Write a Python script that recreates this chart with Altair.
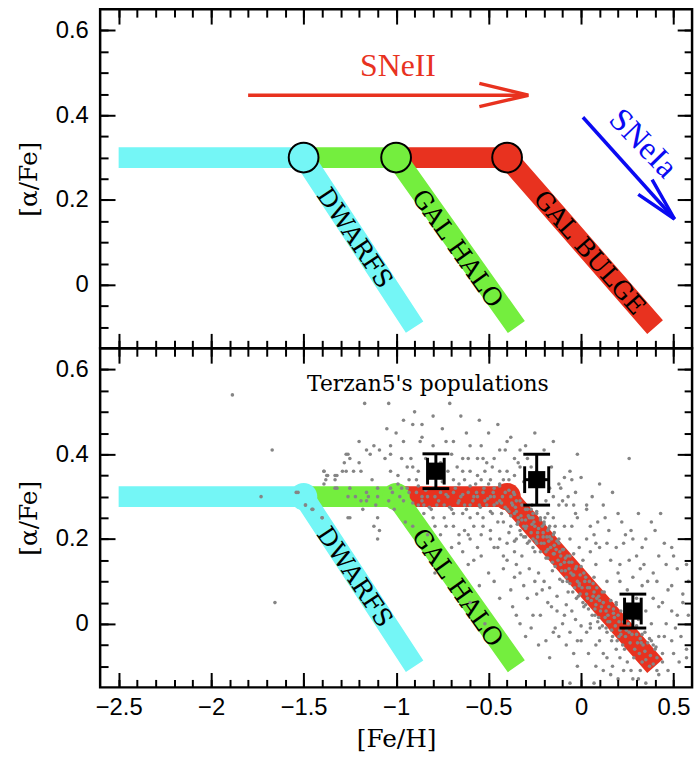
import altair as alt
import pandas as pd

# ---------------- axis ranges and ticks ----------------
x_domain = [-2.6, 0.6]
y_domain = [-0.15, 0.65]
x_major = [-2.5, -2.0, -1.5, -1.0, -0.5, 0.0, 0.5]
x_minor = [-2.5, -2.4, -2.3, -2.2, -2.1, -2.0, -1.9, -1.8, -1.7, -1.6, -1.5,
           -1.4, -1.3, -1.2, -1.1, -1.0, -0.9, -0.8, -0.7, -0.6, -0.5, -0.4,
           -0.3, -0.2, -0.1, 0.0, 0.1, 0.2, 0.3, 0.4, 0.5]
y_major = [0.0, 0.2, 0.4, 0.6]
y_minor = [-0.1, -0.05, 0.0, 0.05, 0.1, 0.15, 0.2, 0.25, 0.3, 0.35, 0.4,
           0.45, 0.5, 0.55, 0.6]

# ---------------- chemical evolution tracks ----------------
dwarfs_feh = [-2.5, -1.5, -0.9]
dwarfs_afe = [0.3, 0.3, -0.1]
halo_feh = [-1.5, -1.0, -0.35]
halo_afe = [0.3, 0.3, -0.1]
bulge_feh = [-1.0, -0.4, 0.4]
bulge_afe = [0.3, 0.3, -0.1]
knee_feh = [-1.5, -1.0, -0.4]
knee_afe = [0.3, 0.3, 0.3]
track_names = ["DWARFS", "GAL HALO", "GAL BULGE"]

# label anchor points on the descending branches
label_feh = [-1.225, -0.67, 0.045]
label_afe = [0.11, 0.085, 0.075]

# SNe arrows
sn2_shaft_feh = [-1.8, -0.29]
sn2_shaft_afe = [0.447, 0.447]
sn2_head_feh = [-0.55, -0.285, -0.55]
sn2_head_afe = [0.475, 0.447, 0.42]
sn1a_shaft_feh = [0.01, 0.505]
sn1a_shaft_afe = [0.395, 0.155]
sn1a_head_feh = [0.309, 0.505, 0.384]
sn1a_head_afe = [0.213, 0.155, 0.248]

# Terzan 5 populations (mean values and errors)
t5_feh = [-0.785, -0.24, 0.28]
t5_afe = [0.36, 0.34, 0.03]
t5_feh_err = [0.045, 0.065, 0.045]
t5_afe_err = [0.041, 0.06, 0.04]

# Terzan 5 individual stars
star_feh = [
    -1.885, -1.67, -1.73, -1.655, -1.54, -1.49, -1.455, -1.40, -1.39, -1.375, -1.33, -1.27, -1.39, -1.33, -1.26,
    -1.17, -1.04, -0.71, -0.65, -0.96, -0.91, -0.86, -1.05, -0.86, -1.20, -1.12, -1.09, -1.03, -0.96, -0.87,
    -0.80, -0.73, -0.69, -0.60, -0.54, -1.26, -1.16, -1.14, -1.25, -1.28, -1.20, -1.06, -1.03, -0.97, -0.92,
    -0.64, -0.61, -0.56, -0.53, -1.39, -1.37, -1.32, -1.29, -1.27, -1.23, -1.19, -1.33, -1.38, -1.13, -1.03,
    -0.99, -0.94, -0.91, -0.89, -0.93, -0.67, -0.64, -0.60, -0.56, -0.69, -0.63, -0.57, -0.54, -0.66, -1.32,
    -1.25, -1.16, -1.10, -1.03, -0.99, -0.97, -1.02, -0.94, -1.53, -1.26, -1.22, -1.15, -1.19, -1.16, -1.10,
    -1.04, -0.98, -0.96, -0.89, -0.86, -0.83, -0.79, -0.76, -0.72, -0.69, -0.65, -0.61, -0.58, -0.56, -0.53,
    -1.49, -1.45, -1.40, -1.25, -1.18, -1.11, -1.10, -1.01, -0.88, -0.85, -0.81, -0.78, -0.74, -0.70, -0.66,
    -0.63, -0.60, -0.55, -0.52, -0.85, -0.80, -0.74, -0.69, -0.64, -0.60, -0.56, -0.53, -0.95, -0.91, -0.79,
    -0.73, -0.69, -0.63, -0.58, -0.53, -0.83, -0.76, -0.66, -0.61, -0.54, -1.12, -1.09,
    -0.40, -0.44, -0.41, -0.33, -0.36, -0.34, -0.33, -0.51, -0.48, -0.44, -0.40, -0.36, -0.29, -0.27, -0.02,
    0.26, -0.06, -0.12, -0.05, -0.11, -0.15, -0.10, -0.07, -0.08, -0.04, 0.03, 0.03, -0.12, -0.19, -0.03,
    -0.02, 0.13, 0.31, 0.38, 0.43, -0.09, -0.05, -0.15, -0.14, -0.18, 0.05, 0.07, 0.24, -0.49, -0.47,
    -0.44, -0.42, -0.49, -0.51, -0.47, -0.43, -0.40, -0.36, -0.48, -0.45, -0.42, -0.38, -0.49, -0.34, -0.31,
    -0.28, -0.26, -0.22, -0.25, -0.21, -0.18, -0.15, -0.47, -0.44, -0.41, -0.38, -0.35, -0.32, -0.29, -0.27,
    -0.24, -0.20, -0.17, -0.27,
    -0.70, -0.66, -0.64, -0.60, -0.56, -0.61, -0.58, -0.54, -0.79, -1.10,
    -0.49, -0.44, -0.40, -0.35, -0.29, -0.47, -0.42, -0.36, -0.32, -0.26, -0.20,
    -0.06, -0.01, 0.03, 0.08, 0.14, 0.19, 0.23, 0.28, 0.33, 0.42, 0.49, -0.06, 0.01, 0.08, 0.16,
    0.21, 0.26, 0.32, 0.39, 0.46, 0.52, 0.57, 0.07, 0.14, 0.21, 0.28, 0.33, 0.41, 0.49, 0.55,
    0.58, 0.39, 0.42, 0.49, 0.55, 0.58, 0.46, 0.51, 0.42, 0.49, 0.57, 0.39, 0.44, 0.32, 0.41,
    0.47, 0.53, 0.57,
    -0.42, -0.36, -0.47, -0.31, -0.37, -0.24, -0.26, -0.18, -0.13, -0.10, -0.06, -0.15, -0.19, -0.23, -0.17,
    -0.12, -0.02, 0.03, 0.08, 0.12, 0.14, 0.17, 0.21, 0.23, 0.28, 0.35, 0.16, 0.08, -0.33, -0.27,
    -0.06, 0.07, -0.02,
    -0.24, -0.18, -0.145, -0.11, -0.085, -0.04, -0.01, 0.035, 0.065, 0.10, 0.135, 0.175, 0.205, 0.245, 0.275,
    0.325, 0.345, -0.10, -0.065, -0.025, 0.015, 0.045, 0.085, 0.115, 0.16, 0.19, 0.235, 0.26, 0.30, 0.33,
    0.37, 0.405, -0.155, -0.115, -0.075, -0.045, -0.005, 0.025, 0.075, 0.095, 0.145, 0.165, 0.215,
    -0.43, -0.39, -0.355, -0.325, -0.30, -0.265, -0.235, -0.205, -0.175, -0.145, -0.12, -0.33, -0.30, -0.26, -0.22,
    -0.19, -0.155, -0.39, -0.36, -0.35, -0.28, -0.23, -0.20, -0.17, -0.13, -0.08, -0.05, -0.03, 0.0, 0.05,
    # metal-poor plateau lying on the bulge track
    -0.93, -0.91, -0.88, -0.86, -0.84, -0.82, -0.80, -0.77, -0.75, -0.73, -0.71, -0.68, -0.665, -0.64, -0.62,
    -0.60, -0.585, -0.565, -0.545, -0.525, -0.505, -0.49, -0.475, -0.455, -0.44, -0.425, -0.41, -0.39, -0.375, -0.36,
    # the dense descending sequence
    -0.38, -0.365, -0.35, -0.345, -0.33, -0.32, -0.31, -0.30, -0.295, -0.285, -0.27, -0.265, -0.255, -0.245, -0.24,
    -0.23, -0.22, -0.215, -0.205, -0.195, -0.19, -0.185, -0.175, -0.165, -0.16, -0.15, -0.145, -0.135, -0.125, -0.12,
    -0.11, -0.105, -0.095, -0.09, -0.08, -0.075, -0.065, -0.06, -0.05, -0.045, -0.035, -0.03, -0.02, -0.015, -0.005,
    0.005, 0.01, 0.02, 0.03, 0.04, 0.045, 0.055, 0.06, 0.07, 0.08, 0.09, 0.095, 0.105, 0.115, 0.12,
    0.13, 0.14, 0.15, 0.155, 0.17, 0.175, 0.185, 0.195, 0.2, 0.21, 0.225, 0.23, 0.24, 0.255, 0.265,
    0.28, 0.29, 0.3, 0.315, 0.32, 0.335, 0.35, 0.36, 0.375, 0.39, 0.4,
    -0.37, -0.34, -0.325, -0.3, -0.28, -0.26, -0.25, -0.235, -0.2, -0.18, -0.17, -0.14, -0.13, -0.115, -0.1,
    -0.085, -0.07, -0.055, -0.04, -0.025, -0.01, 0.0, 0.015, 0.025, 0.035, 0.05, 0.065, 0.075, 0.085, 0.1,
    0.11, 0.125, 0.135, 0.145, 0.16, 0.165, 0.18, 0.19, 0.205, 0.215, 0.235, 0.25, 0.26, 0.275, 0.285,
    0.305, 0.31, 0.33, 0.345, 0.37, 0.38, 0.41, 0.42, 0.44,
    # surrounding cloud
    -0.2, -0.16, -0.09, -0.03, 0.0, 0.06, 0.1, 0.12, 0.17, 0.2, 0.09, 0.15, 0.22, 0.27, 0.35,
    0.4, 0.45, 0.5, 0.2, 0.25, 0.3, 0.35, 0.36, 0.44, 0.47, 0.52, 0.54, 0.5, 0.45, 0.38,
    0.34, 0.3, 0.1, 0.05, -0.45, -0.4, -0.38, -0.33, -0.29, -0.25, -0.21, -0.22, -0.16, -0.14, -0.09,
    -0.08, -0.04, 0.0, 0.04, 0.1, 0.12, 0.19, 0.25, 0.27, 0.31, 0.2, -0.3, -0.35, -0.44, -0.5,
    -0.55, -0.6, -0.52,
    -0.5, -0.45, -0.38, -0.3, -0.25, -0.2, -0.15, -0.55, -0.62, -0.75, -0.8, -0.9, -1.0, -0.52, -0.47,
    -0.39, -0.31, -0.24, -0.17, -0.76, -0.72, -0.7, -0.84, -0.88, -0.5,
]
star_afe = [
    0.54, 0.41, 0.30, 0.05, 0.31, 0.28, 0.27, 0.25, 0.36, 0.35, 0.35, 0.40, 0.33, 0.32, 0.25,
    0.52, 0.52, 0.52, 0.49, 0.48, 0.47, 0.47, 0.46, 0.44, 0.43, 0.42, 0.41, 0.42, 0.43, 0.43,
    0.42, 0.43, 0.43, 0.42, 0.42, 0.40, 0.41, 0.40, 0.39, 0.38, 0.38, 0.39, 0.40, 0.39, 0.39,
    0.39, 0.39, 0.39, 0.39, 0.36, 0.35, 0.35, 0.36, 0.36, 0.36, 0.36, 0.34, 0.34, 0.34, 0.36,
    0.35, 0.37, 0.37, 0.34, 0.34, 0.37, 0.36, 0.36, 0.35, 0.34, 0.34, 0.33, 0.34, 0.33, 0.32,
    0.32, 0.31, 0.32, 0.32, 0.33, 0.32, 0.31, 0.32, 0.31, 0.30, 0.30, 0.30, 0.29, 0.29, 0.30,
    0.29, 0.30, 0.29, 0.31, 0.30, 0.30, 0.30, 0.31, 0.30, 0.31, 0.30, 0.31, 0.30, 0.30, 0.31,
    0.28, 0.27, 0.25, 0.25, 0.27, 0.28, 0.25, 0.27, 0.28, 0.28, 0.27, 0.28, 0.28, 0.27, 0.29,
    0.28, 0.28, 0.28, 0.29, 0.26, 0.25, 0.25, 0.26, 0.26, 0.25, 0.26, 0.25, 0.24, 0.23, 0.23,
    0.23, 0.23, 0.22, 0.23, 0.23, 0.21, 0.21, 0.21, 0.21, 0.21, 0.23, 0.22,
    0.43, 0.41, 0.41, 0.41, 0.39, 0.38, 0.37, 0.38, 0.37, 0.36, 0.36, 0.35, 0.39, 0.37, 0.40,
    0.39, 0.36, 0.33, 0.34, 0.32, 0.30, 0.29, 0.30, 0.28, 0.28, 0.28, 0.27, 0.28, 0.29, 0.26,
    0.25, 0.25, 0.26, 0.24, 0.26, 0.23, 0.23, 0.25, 0.23, 0.26, 0.23, 0.21, 0.21, 0.34, 0.32,
    0.33, 0.34, 0.30, 0.28, 0.28, 0.26, 0.27, 0.26, 0.26, 0.24, 0.24, 0.23, 0.22, 0.24, 0.23,
    0.25, 0.26, 0.25, 0.23, 0.23, 0.22, 0.21, 0.30, 0.29, 0.31, 0.30, 0.29, 0.28, 0.27, 0.27,
    0.26, 0.24, 0.23, 0.25,
    0.18, 0.19, 0.17, 0.20, 0.18, 0.14, 0.15, 0.16, 0.12, 0.20,
    0.20, 0.20, 0.19, 0.20, 0.19, 0.18, 0.16, 0.17, 0.16, 0.18, 0.19,
    0.20, 0.18, 0.20, 0.19, 0.19, 0.18, 0.19, 0.20, 0.18, 0.16, 0.18, 0.16, 0.15, 0.14, 0.15,
    0.14, 0.15, 0.13, 0.12, 0.14, 0.13, 0.14, 0.11, 0.10, 0.10, 0.11, 0.09, 0.10, 0.09, 0.07,
    0.10, 0.06, 0.04, 0.03, 0.05, 0.02, 0.00, -0.01, -0.03, -0.04, -0.06, -0.05, -0.07, -0.11, -0.11,
    -0.11, -0.09, -0.08,
    0.13, 0.11, 0.10, 0.09, 0.04, 0.07, 0.02, 0.05, 0.03, 0.00, -0.02, -0.02, -0.04, -0.05, -0.08,
    -0.03, -0.04, -0.02, -0.05, -0.07, -0.08, -0.10, -0.08, -0.11, -0.13, -0.14, -0.12, -0.10, 0.00, -0.01,
    -0.14, -0.14, -0.10,
    0.19, 0.175, 0.165, 0.14, 0.125, 0.115, 0.095, 0.085, 0.065, 0.055, 0.03, 0.025, 0.005, -0.015, -0.025,
    -0.045, -0.065, 0.175, 0.145, 0.135, 0.12, 0.10, 0.085, 0.075, 0.055, 0.045, 0.025, 0.015, -0.005, -0.025,
    -0.035, -0.055, 0.125, 0.105, 0.10, 0.075, 0.07, 0.045, 0.035, 0.015, 0.005, -0.015, -0.025,
    0.285, 0.265, 0.275, 0.255, 0.245, 0.235, 0.215, 0.205, 0.195, 0.185, 0.20, 0.22, 0.205, 0.20, 0.17,
    0.155, 0.145, 0.215, 0.195, 0.14, 0.13, 0.12, 0.10, 0.085, 0.065, 0.045, 0.03, 0.01, -0.005, -0.01,
    # metal-poor plateau lying on the bulge track
    0.31, 0.285, 0.325, 0.29, 0.315, 0.275, 0.32, 0.29, 0.335, 0.305, 0.275, 0.32, 0.285, 0.305, 0.27,
    0.325, 0.29, 0.31, 0.275, 0.32, 0.295, 0.265, 0.31, 0.285, 0.325, 0.30, 0.275, 0.315, 0.285, 0.305,
    # the dense descending sequence
    0.255, 0.31, 0.265, 0.235, 0.29, 0.245, 0.205, 0.27, 0.23, 0.255, 0.215, 0.28, 0.24, 0.195, 0.265,
    0.225, 0.245, 0.19, 0.215, 0.25, 0.17, 0.205, 0.225, 0.18, 0.2, 0.165, 0.215, 0.175, 0.15, 0.19,
    0.16, 0.125, 0.175, 0.145, 0.11, 0.16, 0.13, 0.095, 0.145, 0.115, 0.085, 0.13, 0.1, 0.065, 0.115,
    0.085, 0.05, 0.1, 0.07, 0.035, 0.085, 0.055, 0.02, 0.075, 0.045, 0.005, 0.065, 0.03, -0.005, 0.05,
    0.015, -0.02, 0.04, 0.005, -0.03, 0.035, -0.005, -0.04, 0.02, -0.015, -0.05, 0.005, -0.03, 0.0, -0.045,
    -0.01, -0.06, -0.025, -0.07, -0.035, -0.05, -0.085, -0.045, -0.075, -0.095, -0.06,
    0.28, 0.25, 0.21, 0.225, 0.195, 0.25, 0.17, 0.205, 0.235, 0.155, 0.205, 0.135, 0.195, 0.17, 0.1,
    0.155, 0.075, 0.12, 0.165, 0.06, 0.09, 0.135, 0.04, 0.11, 0.06, 0.0, 0.095, 0.02, 0.06, -0.01,
    0.04, 0.075, -0.01, 0.02, 0.055, -0.04, 0.015, 0.05, -0.03, 0.03, -0.06, 0.02, -0.02, 0.03, -0.08,
    -0.045, 0.01, -0.09, -0.02, -0.1, -0.04, -0.08, -0.12, -0.09,
    # surrounding cloud
    0.34, 0.37, 0.345, 0.31, 0.345, 0.3, 0.33, 0.28, 0.31, 0.26, 0.24, 0.22, 0.24, 0.22, 0.2,
    0.22, 0.19, 0.16, 0.12, 0.08, 0.06, 0.03, 0.1, 0.05, 0.08, 0.02, -0.03, -0.07, -0.03, 0.0,
    0.14, 0.16, 0.18, 0.17, 0.18, 0.15, 0.08, 0.12, 0.06, 0.1, 0.08, 0.02, 0.04, -0.01, 0.02,
    -0.05, -0.07, -0.04, -0.07, -0.04, -0.11, -0.06, -0.09, -0.11, -0.13, -0.13, -0.03, 0.02, 0.06, 0.12,
    0.09, 0.05, 0.0,
    0.45, 0.47, 0.44, 0.42, 0.45, 0.41, 0.43, 0.48, 0.45, 0.46, 0.49, 0.5, 0.45, 0.36, 0.39,
    0.34, 0.335, 0.36, 0.32, 0.38, 0.36, 0.4, 0.39, 0.36, 0.33,
]

# ---------------- styling ----------------
W, H = 597, 342
TRACK_COLORS = ["#74F6F6", "#74EE3E", "#E8321F"]
RED = "#E8321F"
BLUE = "#0A0AF2"
SERIF = "DejaVu Serif"
SANS = "Liberation Sans"

XS = alt.Scale(domain=x_domain, nice=False, zero=False)
YS = alt.Scale(domain=y_domain, nice=False, zero=False)


def xq(field):
    return alt.X(f"{field}:Q", scale=XS, axis=None)


def yq(field):
    return alt.Y(f"{field}:Q", scale=YS, axis=None)


def frame_axes(show_x_labels):
    """Inward-pointing major/minor ticks on all four sides of a panel."""
    anchor = pd.DataFrame({"x": [0.0], "y": [0.0]})
    layers = []
    specs = [
        ("bottom", "left", x_major, y_major, 15, True),
        ("bottom", "left", x_minor, y_minor, 8, False),
        ("top", "right", x_major, y_major, 15, False),
        ("top", "right", x_minor, y_minor, 8, False),
    ]
    for xo, yo, xv, yv, length, main in specs:
        common = dict(domain=False, grid=False, tickColor="black", tickWidth=2,
                      tickSize=length, offset=-length, zindex=1)
        if main and show_x_labels:
            xa = alt.Axis(orient=xo, values=xv, labels=True, format="~g",
                          labelFont=SANS, labelFontSize=24, labelColor="black",
                          labelPadding=8, labelFlush=False, labelOverlap=False,
                          title="[Fe/H]", titleFont=SERIF, titleFontSize=25,
                          titleFontWeight="normal", titleColor="black",
                          titlePadding=8, **common)
        else:
            xa = alt.Axis(orient=xo, values=xv, labels=False, title=None, **common)
        if main:
            ya = alt.Axis(orient=yo, values=yv, labels=True, format="~g",
                          labelFont=SANS, labelFontSize=24, labelColor="black",
                          labelPadding=12, labelFlush=False, labelOverlap=False,
                          title="[α/Fe]", titleFont=SERIF, titleFontSize=25,
                          titleFontWeight="normal", titleColor="black",
                          titlePadding=14, **common)
        else:
            ya = alt.Axis(orient=yo, values=yv, labels=False, title=None, **common)
        layers.append(
            alt.Chart(anchor).mark_point(opacity=0).encode(
                x=alt.X("x:Q", scale=XS, axis=xa),
                y=alt.Y("y:Q", scale=YS, axis=ya),
            )
        )
    return layers


def track(feh, afe, color):
    df = pd.DataFrame({"x": feh, "y": afe, "i": list(range(len(feh)))})
    return alt.Chart(df).mark_line(
        color=color, strokeWidth=21, strokeCap="butt", strokeJoin="miter"
    ).encode(x=xq("x"), y=yq("y"), order="i:Q")


def tracks():
    # red first, so the halo and dwarf knees sit on top
    return [
        track(bulge_feh, bulge_afe, TRACK_COLORS[2]),
        track(halo_feh, halo_afe, TRACK_COLORS[1]),
        track(dwarfs_feh, dwarfs_afe, TRACK_COLORS[0]),
    ]


def knees(outlined):
    df = pd.DataFrame({"x": knee_feh, "y": knee_afe, "c": TRACK_COLORS})
    if outlined:
        mark = alt.Chart(df).mark_circle(size=900, opacity=1, stroke="black", strokeWidth=2)
    else:
        mark = alt.Chart(df).mark_circle(size=760, opacity=1)
    return mark.encode(x=xq("x"), y=yq("y"), color=alt.Color("c:N", scale=None))


def track_labels(n):
    angles = [56, 54.6, 48.9]
    out = []
    for k in range(n):
        df = pd.DataFrame({"x": [label_feh[k]], "y": [label_afe[k]], "t": [track_names[k]]})
        out.append(
            alt.Chart(df).mark_text(
                font=SERIF, fontSize=25, color="black", align="center",
                baseline="middle", angle=angles[k]
            ).encode(x=xq("x"), y=yq("y"), text="t:N")
        )
    return out


def polyline(feh, afe, color):
    df = pd.DataFrame({"x": feh, "y": afe, "i": list(range(len(feh)))})
    return alt.Chart(df).mark_line(
        color=color, strokeWidth=3.5, strokeCap="butt", strokeJoin="miter"
    ).encode(x=xq("x"), y=yq("y"), order="i:Q")


def note(x, y, text, color, size, font, angle=0, baseline="alphabetic"):
    df = pd.DataFrame({"x": [x], "y": [y], "t": [text]})
    kw = dict(font=font, fontSize=size, color=color, align="center", baseline=baseline)
    if angle:
        kw["angle"] = angle
    return alt.Chart(df).mark_text(**kw).encode(x=xq("x"), y=yq("y"), text="t:N")


# ---------------- top panel: schematic ----------------
top = alt.layer(
    *frame_axes(False),
    *tracks(),
    knees(True),
    *track_labels(3),
    polyline(sn2_shaft_feh, sn2_shaft_afe, RED),
    polyline(sn2_head_feh, sn2_head_afe, RED),
    note(-0.99, 0.493, "SNeII", RED, 32, "Liberation Serif"),
    polyline(sn1a_shaft_feh, sn1a_shaft_afe, BLUE),
    polyline(sn1a_head_feh, sn1a_head_afe, BLUE),
    note(0.335, 0.333, "SNeIa", BLUE, 33, "Liberation Serif", angle=46, baseline="middle"),
).resolve_axis(x="independent", y="independent").properties(width=W, height=H)

# ---------------- bottom panel: Terzan 5 ----------------
stars = pd.DataFrame({"x": star_feh, "y": star_afe})
star_layer = alt.Chart(stars).mark_circle(size=13, color="#858585", opacity=1).encode(
    x=xq("x"), y=yq("y")
)

t5 = pd.DataFrame({
    "x": t5_feh,
    "y": t5_afe,
    "xlo": [a - b for a, b in zip(t5_feh, t5_feh_err)],
    "xhi": [a + b for a, b in zip(t5_feh, t5_feh_err)],
    "ylo": [a - b for a, b in zip(t5_afe, t5_afe_err)],
    "yhi": [a + b for a, b in zip(t5_afe, t5_afe_err)],
})
t5_base = alt.Chart(t5)
yerr = t5_base.mark_rule(color="black", strokeWidth=3).encode(
    x=xq("x"), y=yq("ylo"), y2=alt.Y2("yhi"))
xerr = t5_base.mark_rule(color="black", strokeWidth=3).encode(
    y=yq("y"), x=xq("xlo"), x2=alt.X2("xhi"))
ycaps = [t5_base.mark_tick(orient="horizontal", size=27, thickness=3, color="black", opacity=1)
         .encode(x=xq("x"), y=yq(f)) for f in ("ylo", "yhi")]
xcaps = [t5_base.mark_tick(orient="vertical", size=27, thickness=3, color="black", opacity=1)
         .encode(x=xq(f), y=yq("y")) for f in ("xlo", "xhi")]
squares = t5_base.mark_square(size=300, color="black", opacity=1).encode(x=xq("x"), y=yq("y"))

bottom = alt.layer(
    *frame_axes(True),
    *tracks(),
    knees(False),
    *track_labels(2),
    star_layer,
    note(-0.828, 0.549, "Terzan5's populations", "black", 22, SERIF),
    yerr, xerr, *ycaps, *xcaps, squares,
).resolve_axis(x="independent", y="independent").properties(width=W, height=H)

chart = alt.vconcat(top, bottom, spacing=0, bounds="flush").configure_view(
    stroke="black", strokeWidth=2.5
).properties(
    padding={"left": 15, "top": 3, "right": 2, "bottom": 4},
    background="white",
)

chart.save("out.html", embed_options={"renderer": "svg", "actions": False})
